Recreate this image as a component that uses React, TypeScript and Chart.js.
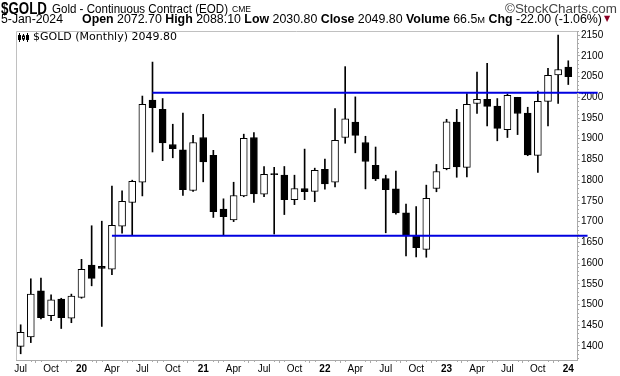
import React, { useEffect, useLayoutEffect, useRef } from "react";
import { Chart, registerables } from "chart.js";

Chart.register(...registerables);

// Monthly candles, Jul 2019 .. Jan 2024 (index 0 = Jul 2019)
const months = [
  "Jul 2019","Aug 2019","Sep 2019","Oct 2019","Nov 2019","Dec 2019",
  "Jan 2020","Feb 2020","Mar 2020","Apr 2020","May 2020","Jun 2020",
  "Jul 2020","Aug 2020","Sep 2020","Oct 2020","Nov 2020","Dec 2020",
  "Jan 2021","Feb 2021","Mar 2021","Apr 2021","May 2021","Jun 2021",
  "Jul 2021","Aug 2021","Sep 2021","Oct 2021","Nov 2021","Dec 2021",
  "Jan 2022","Feb 2022","Mar 2022","Apr 2022","May 2022","Jun 2022",
  "Jul 2022","Aug 2022","Sep 2022","Oct 2022","Nov 2022","Dec 2022",
  "Jan 2023","Feb 2023","Mar 2023","Apr 2023","May 2023","Jun 2023",
  "Jul 2023","Aug 2023","Sep 2023","Oct 2023","Nov 2023","Dec 2023",
  "Jan 2024",
];
const opens = [
  1399, 1422, 1533, 1473, 1513, 1467,
  1517, 1595, 1592, 1585, 1689, 1746,
  1795, 1993, 1971, 1886, 1873, 1775,
  1903, 1860, 1730, 1704, 1762, 1903,
  1766, 1813, 1812, 1753, 1780, 1773,
  1826, 1795, 1903, 1940, 1891, 1836,
  1804, 1779, 1721, 1667, 1633, 1780,
  1828, 1940, 1831, 1985, 1995, 1979,
  1922, 2000, 1962, 1860, 1990, 2054,
  2072.7,
];
const highs = [
  1451, 1562, 1564, 1523, 1515, 1525,
  1609, 1690, 1701, 1786, 1774, 1800,
  2003, 2085, 1997, 1935, 1962, 1908,
  1959, 1872, 1755, 1795, 1911, 1915,
  1833, 1831, 1833, 1812, 1875, 1829,
  1851, 1973, 2074, 2001, 1906, 1880,
  1812, 1822, 1742, 1736, 1788, 1838,
  1947, 1971, 2009, 2061, 2082, 1997,
  2008, 2000, 1976, 2015, 2070, 2150,
  2088.1,
];
const lows = [
  1381, 1408, 1465, 1461, 1442, 1456,
  1515, 1545, 1447, 1572, 1672, 1666,
  1762, 1868, 1847, 1854, 1763, 1773,
  1796, 1710, 1668, 1700, 1760, 1746,
  1760, 1670, 1717, 1741, 1753, 1748,
  1778, 1784, 1889, 1866, 1779, 1799,
  1673, 1718, 1617, 1615, 1614, 1772,
  1825, 1807, 1808, 1961, 1931, 1895,
  1903, 1910, 1859, 1819, 1931, 1985,
  2030.8,
];
const closes = [
  1433, 1525, 1468, 1511, 1468, 1520,
  1585, 1563, 1587, 1691, 1749, 1797,
  1983, 1975, 1890, 1876, 1777, 1891,
  1844, 1724, 1712, 1763, 1901, 1767,
  1814, 1816, 1753, 1780, 1772, 1824,
  1791, 1896, 1948, 1908, 1845, 1803,
  1777, 1721, 1667, 1637, 1756, 1821,
  1941, 1832, 1983, 1995, 1978, 1925,
  2005, 1961, 1861, 1990, 2053, 2067,
  2049.8,
];

// Axis ticks
const xTickIndex = [0, 3, 6, 9, 12, 15, 18, 21, 24, 27, 30, 33, 36, 39, 42, 45, 48, 51, 54];
const xTickLabels = ["Jul","Oct","20","Apr","Jul","Oct","21","Apr","Jul","Oct","22","Apr","Jul","Oct","23","Apr","Jul","Oct","24"];
const yTicks = [1400,1450,1500,1550,1600,1650,1700,1750,1800,1850,1900,1950,2000,2050,2100,2150];

// Horizontal trend lines: level, start index, end index
const lineLevels = [2011, 1666];
const lineStarts = [13, 9];
const lineEnds = [56.9, 55.9];

const BLUE = "#0000e0";
const AXIS = "#aaaaaa";
const SANS = "'Liberation Sans', Arial, sans-serif";

function Fit(props: { left: number; top: number; width: number; style?: any; children: any }) {
  const r = useRef<HTMLSpanElement | null>(null);
  useLayoutEffect(() => {
    const el = r.current;
    if (!el) return;
    el.style.transform = "none";
    const w = el.getBoundingClientRect().width;
    if (w > 0) el.style.transform = `scaleX(${props.width / w})`;
  });
  return (
    <span
      ref={r}
      style={{
        position: "absolute",
        left: props.left,
        top: props.top,
        whiteSpace: "pre",
        lineHeight: 1,
        color: "#000",
        display: "inline-block",
        transformOrigin: "0 0",
        fontFamily: SANS,
        ...(props.style || {}),
      }}
    >
      {props.children}
    </span>
  );
}

export default function App() {
  const ref = useRef<HTMLCanvasElement | null>(null);

  useEffect(() => {
    const canvas = ref.current;
    if (!canvas) return;

    const bodies = opens.map((o, i) => ({ x: i, y: [o, closes[i]] }));
    const wicks = lows.map((l, i) => ({ x: i, y: [l, highs[i]] }));
    const bodyFill = opens.map((o, i) =>
      closes[i] > o && closes[i] - o > 4 ? "#ffffff" : "#000000"
    );

    const framePlugin = {
      id: "frame",
      beforeDatasetsDraw(chart: any) {
        const { ctx, chartArea } = chart;
        ctx.save();
        ctx.strokeStyle = "#c0c0c0";
        ctx.lineWidth = 1;
        ctx.beginPath();
        ctx.moveTo(Math.round(chartArea.left) + 0.5, Math.round(chartArea.bottom));
        ctx.lineTo(Math.round(chartArea.left) + 0.5, Math.round(chartArea.top) + 0.5);
        ctx.lineTo(Math.round(chartArea.right), Math.round(chartArea.top) + 0.5);
        ctx.stroke();
        ctx.restore();
      },
      afterDraw(chart: any) {
        const { ctx, chartArea, scales } = chart;
        ctx.save();
        ctx.strokeStyle = AXIS;
        ctx.lineWidth = 1;
        const yS = scales.y;
        for (let v = 1370; v <= 2160; v += 10) {
          if (v % 50 === 0) continue;
          const py = Math.round(yS.getPixelForValue(v)) + 0.5;
          ctx.beginPath();
          ctx.moveTo(chartArea.right, py);
          ctx.lineTo(chartArea.right + 2, py);
          ctx.stroke();
        }
        const xS = scales.x;
        for (let i = 0; i < months.length; i++) {
          if (i % 3 === 0) continue;
          const px = Math.round(xS.getPixelForValue(i)) + 0.5;
          ctx.beginPath();
          ctx.moveTo(px, chartArea.bottom);
          ctx.lineTo(px, chartArea.bottom + 2);
          ctx.stroke();
        }
        ctx.restore();
      },
    };

    const lineDs = (k: number) =>
      ({
        type: "line",
        data: [
          { x: lineStarts[k], y: lineLevels[k] },
          { x: lineEnds[k], y: lineLevels[k] },
        ],
        borderColor: BLUE,
        borderWidth: 2,
        pointRadius: 0,
        clip: false,
        order: 0,
      } as any);

    const chart = new Chart(canvas, {
      type: "bar",
      data: {
        datasets: [
          lineDs(0),
          lineDs(1),
          {
            type: "bar",
            data: bodies as any,
            backgroundColor: bodyFill,
            borderColor: "#000000",
            borderWidth: 1,
            borderSkipped: false,
            barThickness: 7,
            grouped: false,
            order: 1,
          } as any,
          {
            type: "bar",
            data: wicks as any,
            backgroundColor: "#000000",
            borderWidth: 0,
            barThickness: 1,
            grouped: false,
            order: 2,
          } as any,
        ],
      },
      options: {
        responsive: false,
        animation: false,
        maintainAspectRatio: false,
        layout: { padding: { left: 16, top: 31, right: 0, bottom: 0 } },
        plugins: { legend: { display: false }, tooltip: { enabled: false } },
        scales: {
          x: {
            type: "linear",
            min: -0.46,
            max: 54.86,
            offset: false,
            afterBuildTicks: (s: any) => {
              s.ticks = xTickIndex.map((v) => ({ value: v }));
            },
            afterFit: (s: any) => {
              s.height = 16;
            },
            ticks: {
              autoSkip: false,
              maxRotation: 0,
              padding: 0,
              color: "#000",
              callback: (v: any) => {
                const k = xTickIndex.indexOf(Number(v));
                return k >= 0 ? xTickLabels[k] : "";
              },
              font: (ctx: any) => ({
                family: SANS,
                size: 10,
                weight: /^\d+$/.test(xTickLabels[ctx.index] || "") ? "bold" : "normal",
              }),
            },
            grid: { drawOnChartArea: false, tickLength: 3, color: AXIS },
            border: { color: AXIS },
          } as any,
          y: {
            position: "right",
            min: 1366,
            max: 2160,
            afterBuildTicks: (s: any) => {
              s.ticks = yTicks.map((v) => ({ value: v }));
            },
            afterFit: (s: any) => {
              s.width = 43;
            },
            ticks: {
              padding: 1,
              color: "#000",
              font: { family: SANS, size: 10 },
              callback: (v: any) => String(v),
            },
            grid: { drawOnChartArea: false, tickLength: 3, color: AXIS },
            border: { color: AXIS },
          } as any,
        },
      },
      plugins: [framePlugin],
    });

    return () => chart.destroy();
  }, []);

  return (
    <div style={{ position: "absolute", left: 0, top: 0, width: 620, height: 376, overflow: "hidden", background: "#fff" }}>
      <canvas ref={ref} width={620} height={376} style={{ position: "absolute", left: 0, top: 0 }} />

      <Fit left={1} top={1} width={46} style={{ fontSize: 16, fontWeight: "bold" }}>$GOLD</Fit>
      <Fit left={52} top={3} width={176} style={{ fontSize: 12 }}>Gold - Continuous Contract (EOD)</Fit>
      <Fit left={232} top={5} width={19} style={{ fontSize: 9 }}>CME</Fit>
      <Fit left={505} top={3} width={112} style={{ fontSize: 12, color: "#444" }}>©StockCharts.com</Fit>

      <Fit left={1} top={13} width={62} style={{ fontSize: 12 }}>5-Jan-2024</Fit>
      <Fit left={82} top={13} width={520} style={{ fontSize: 12 }}>
        <b>Open</b> 2072.70 <b>High</b> 2088.10 <b>Low</b> 2030.80 <b>Close</b> 2049.80 <b>Volume</b> 66.5<span style={{ fontSize: 9 }}>M</span> <b>Chg</b> -22.00 (-1.06%)
      </Fit>
      <span style={{ position: "absolute", left: 604, top: 15, lineHeight: 1, fontFamily: "'DejaVu Sans', sans-serif", fontSize: 8, color: "#8b0024" }}>▼</span>

      <svg style={{ position: "absolute", left: 18, top: 33 }} width={12} height={9}>
        <line x1={1.5} y1={0} x2={1.5} y2={9} stroke="#000" />
        <rect x={0} y={2} width={3} height={5} fill="#000" />
        <line x1={5.5} y1={1} x2={5.5} y2={8} stroke="#000" />
        <rect x={4.5} y={3} width={2} height={3} fill="#fff" stroke="#000" />
        <line x1={9.5} y1={0} x2={9.5} y2={9} stroke="#000" />
        <rect x={8} y={2} width={3} height={5} fill="#000" />
      </svg>
      <Fit left={33} top={32} width={144} style={{ fontFamily: "'DejaVu Sans', sans-serif", fontSize: 10 }}>$GOLD (Monthly) 2049.80</Fit>
    </div>
  );
}
